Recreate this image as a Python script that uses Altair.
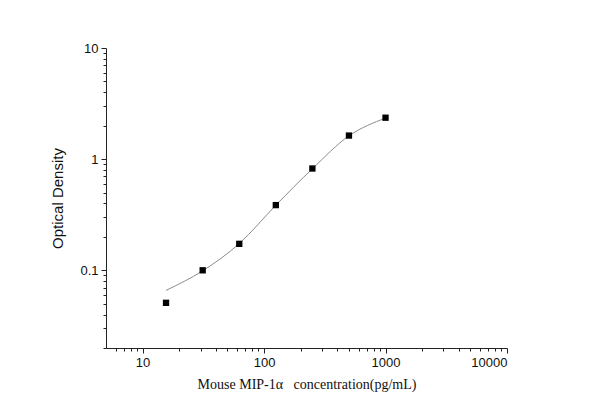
import altair as alt
import pandas as pd

# standard points (pg/mL, OD)
conc = [15.6, 31.25, 62.5, 125, 250, 500, 1000]
od = [0.051, 0.100, 0.173, 0.386, 0.824, 1.63, 2.36]

# fitted curve
fit_conc = [15.6, 31.25, 62.5, 125, 250, 500, 1000]
fit_od = [0.066, 0.099, 0.174, 0.385, 0.82, 1.62, 2.34]

x_major = [10, 100, 1000, 10000]
x_minor = [6, 7, 8, 9, 20, 30, 40, 50, 60, 70, 80, 90,
           200, 300, 400, 500, 600, 700, 800, 900,
           2000, 3000, 4000, 5000, 6000, 7000, 8000, 9000]
y_major = [0.1, 1, 10]
y_minor = [0.02, 0.03, 0.04, 0.05, 0.06, 0.07, 0.08, 0.09,
           0.2, 0.3, 0.4, 0.5, 0.6, 0.7, 0.8, 0.9,
           2, 3, 4, 5, 6, 7, 8, 9]

pts = pd.DataFrame({"conc": conc, "od": od})
fit = pd.DataFrame({"conc": fit_conc, "od": fit_od})

x_scale = alt.Scale(type="log", domain=[5, 10000], nice=False)
y_scale = alt.Scale(type="log", domain=[0.02, 10], nice=False)

sans = "Liberation Sans"
serif = "Liberation Serif"

curve = alt.Chart(fit).mark_line(
    interpolate="monotone", color="#8c8c8c", strokeWidth=1
).encode(
    x=alt.X("conc:Q", scale=x_scale,
            axis=alt.Axis(values=x_major, orient="bottom", format="d",
                          title="Mouse MIP-1\u03b1\u00a0\u00a0 concentration(pg/mL)",
                          titleFont=serif, titleFontSize=14, titleFontWeight="normal",
                          titleColor="#111", titlePadding=8,
                          labelFont=sans, labelFontSize=13, labelColor="#111",
                          labelPadding=3, tickSize=5, tickColor="#222",
                          domainColor="#222", grid=False)),
    y=alt.Y("od:Q", scale=y_scale,
            axis=alt.Axis(values=y_major, orient="left", labelExpr="datum.value",
                          title="Optical Density",
                          titleFont=sans, titleFontSize=15, titleFontWeight="normal",
                          titleColor="#111", titlePadding=14,
                          labelFont=sans, labelFontSize=13, labelColor="#111",
                          labelPadding=3, tickSize=5, tickColor="#222",
                          domainColor="#222", grid=False)),
)

dots = alt.Chart(pts).mark_point(
    shape="square", filled=True, color="black", size=40, opacity=1
).encode(
    x=alt.X("conc:Q", scale=x_scale,
            axis=alt.Axis(values=x_minor, orient="bottom", labels=False, title=None,
                          domain=False, tickSize=3, tickColor="#222", grid=False)),
    y=alt.Y("od:Q", scale=y_scale,
            axis=alt.Axis(values=y_minor, orient="left", labels=False, title=None,
                          domain=False, tickSize=3, tickColor="#222", grid=False)),
)

chart = alt.layer(curve, dots).resolve_axis(
    x="independent", y="independent"
).properties(
    width=401, height=300,
    autosize=alt.AutoSizeParams(type="none"),
    padding={"left": 98, "top": 40, "right": 70, "bottom": 60},
).configure_view(stroke=None)

chart.save("out.html", embed_options={"renderer": "svg", "actions": False})
